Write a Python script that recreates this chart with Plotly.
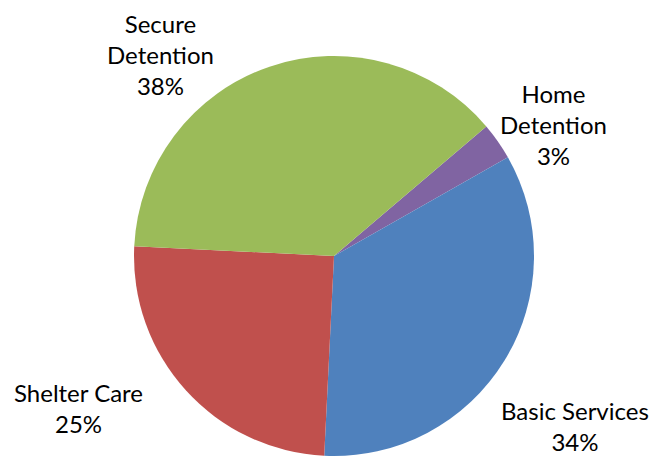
import plotly.graph_objects as go

# Budget share by program, in drawing order (clockwise from the purple wedge)
labels = ["Home Detention", "Basic Services", "Shelter Care", "Secure Detention"]
shares = [3, 34, 25, 38]
colors = ["#8064A2", "#4F81BD", "#C0504D", "#9BBB59"]

# Label text lines and their anchor points (pixels from top-left)
label_lines = [["Home", "Detention"], ["Basic Services"], ["Shelter Care"], ["Secure", "Detention"]]
label_x = [553, 575, 78, 160]
label_y = [124, 426, 408, 54]

W, H = 649, 457
CX, CY, R = 334, 256, 200  # pie centre and radius in pixels

fig = go.Figure(
    go.Pie(
        labels=labels,
        values=shares,
        marker=dict(colors=colors, line=dict(width=0)),
        sort=False,
        direction="clockwise",
        rotation=49.6,
        textinfo="none",
        hoverinfo="label+percent",
        domain=dict(
            x=[(CX - R) / W, (CX + R) / W],
            y=[1 - (CY + R) / H, 1 - (CY - R) / H],
        ),
    )
)

total = sum(shares)
for lines, v, px, py in zip(label_lines, shares, label_x, label_y):
    text = "<br>".join(lines + [f"{round(100 * v / total)}%"])
    fig.add_annotation(
        x=px / W,
        y=1 - py / H,
        xref="paper",
        yref="paper",
        text=text,
        showarrow=False,
        xanchor="center",
        yanchor="middle",
        align="center",
        font=dict(family="Lato", size=24, color="#000000"),
    )

fig.update_layout(
    width=W,
    height=H,
    margin=dict(l=0, r=0, t=0, b=0),
    showlegend=False,
    paper_bgcolor="#FFFFFF",
    plot_bgcolor="#FFFFFF",
)

fig.write_html("out.html")
